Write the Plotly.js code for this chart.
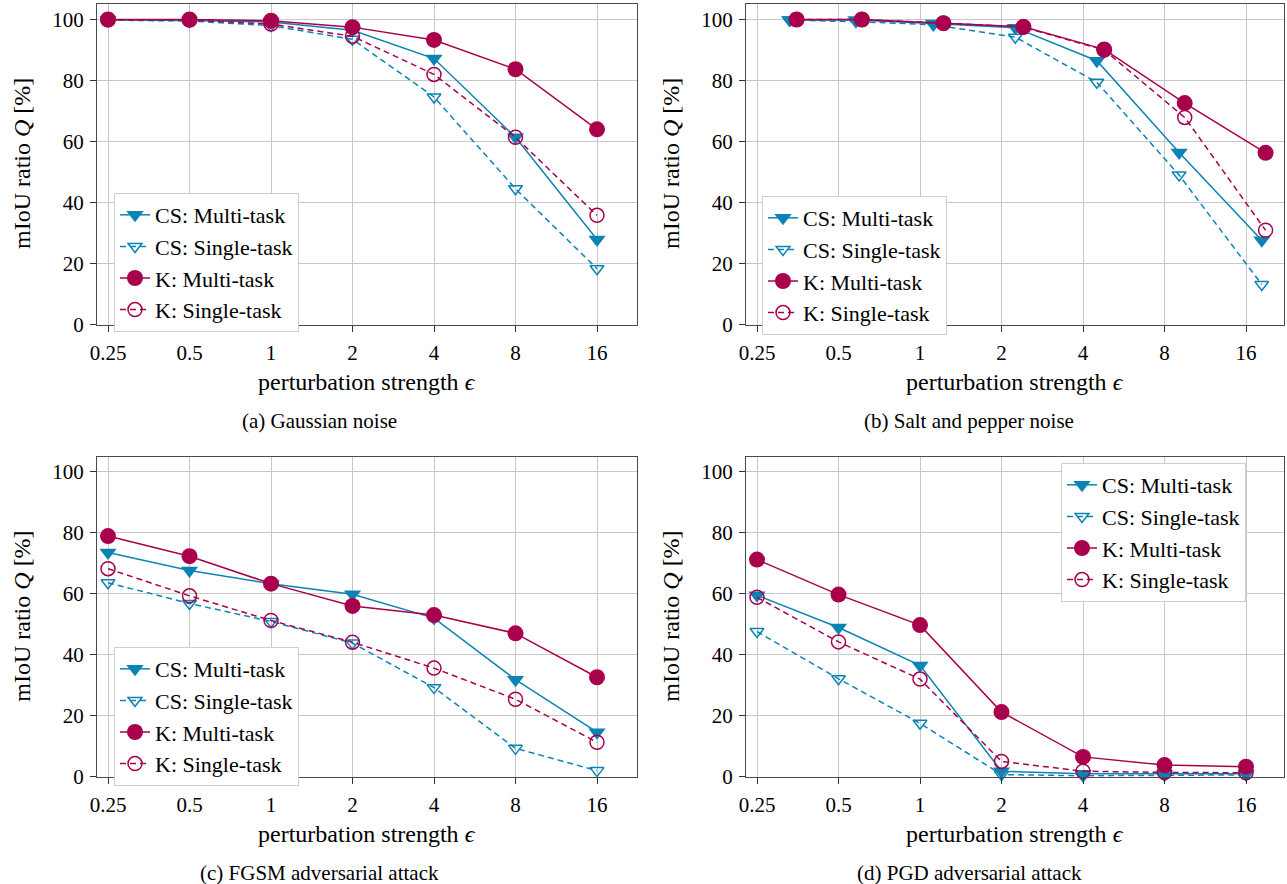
<!DOCTYPE html>
<html>
<head>
<meta charset="utf-8">
<script src="https://cdn.plot.ly/plotly-3.0.1.min.js"></script>
<style>
html,body{margin:0;padding:0;background:#fff;}
#chart{width:1287px;height:884px;}
</style>
</head>
<body>
<div id="chart"></div>
<script>
// ---------- data ----------
const epsTicks = [0.25, 0.5, 1, 2, 4, 8, 16];
const tickLabels = ['0.25', '0.5', '1', '2', '4', '8', '16'];
const yTicks = [0, 20, 40, 60, 80, 100];
const seriesNames = ['CS: Multi-task', 'CS: Single-task', 'K: Multi-task', 'K: Single-task'];
const panelCaptions = ['(a) Gaussian noise', '(b) Salt and pepper noise', '(c) FGSM adversarial attack', '(d) PGD adversarial attack'];

// (a) Gaussian noise
const gaussX = [0.25, 0.5, 1, 2, 4, 8, 16];
const gaussCsMulti  = [99.8, 99.7, 99.2, 96.5, 87.2, 61.4, 27.9];
const gaussCsSingle = [99.8, 99.5, 98.0, 93.5, 74.6, 44.5, 18.3];
const gaussKMulti   = [100, 100, 99.6, 97.5, 93.3, 83.7, 64.0];
const gaussKSingle  = [99.9, 99.8, 98.5, 94.5, 82.0, 61.4, 35.8];

// (b) Salt and pepper noise (measured strengths differ slightly per dataset)
const spXcs = [0.33, 0.58, 1.12, 2.25, 4.5, 9.06, 18.3];
const spXk  = [0.35, 0.61, 1.22, 2.41, 4.79, 9.5, 18.9];
const spCsMulti  = [99.8, 99.8, 98.7, 97.3, 86.5, 56.4, 27.6];
const spCsSingle = [99.8, 99.3, 98.3, 94.2, 79.4, 49.0, 13.1];
const spKMulti   = [100, 100, 98.8, 97.6, 90.2, 72.6, 56.3];
const spKSingle  = [100, 100, 98.8, 97.5, 90.0, 67.9, 30.9];

// (c) FGSM adversarial attack
const fgsmX = [0.25, 0.5, 1, 2, 4, 8, 16];
const fgsmCsMulti  = [73.5, 67.6, 63.3, 59.8, 52.0, 31.8, 14.6];
const fgsmCsSingle = [63.6, 56.8, 50.9, 43.8, 29.2, 9.3, 2.0];
const fgsmKMulti   = [78.9, 72.3, 63.3, 56.0, 53.0, 47.0, 32.6];
const fgsmKSingle  = [68.2, 59.3, 51.2, 44.1, 35.6, 25.4, 11.3];

// (d) PGD adversarial attack
const pgdX = [0.25, 0.5, 1, 2, 4, 8, 16];
const pgdCsMulti  = [59.5, 48.9, 36.5, 1.8, 1.0, 0.9, 1.0];
const pgdCsSingle = [47.6, 32.1, 17.5, 0.7, 0.3, 0.5, 0.6];
const pgdKMulti   = [71.2, 59.7, 49.7, 21.2, 6.5, 3.8, 3.3];
const pgdKSingle  = [58.8, 44.2, 32.0, 5.0, 1.8, 1.4, 1.3];

// ---------- styling ----------
const W = 1287, H = 884;
const BLUE = '#0b84b5';
const RED = '#a8004c';
const FONT = "'Liberation Serif', serif";
const px = v => v / W;
const py = v => 1 - v / H;

const panels = [
  {xs: [gaussX, gaussX, gaussX, gaussX], ys: [gaussCsMulti, gaussCsSingle, gaussKMulti, gaussKSingle],
   box: [97, 637, 3.5, 324.5], legend: [114, 193]},
  {xs: [spXcs, spXcs, spXk, spXk], ys: [spCsMulti, spCsSingle, spKMulti, spKSingle],
   box: [746, 1284, 3.5, 324.5], legend: [762, 196]},
  {xs: [fgsmX, fgsmX, fgsmX, fgsmX], ys: [fgsmCsMulti, fgsmCsSingle, fgsmKMulti, fgsmKSingle],
   box: [97, 637, 456.7, 776.7], legend: [114, 647]},
  {xs: [pgdX, pgdX, pgdX, pgdX], ys: [pgdCsMulti, pgdCsSingle, pgdKMulti, pgdKSingle],
   box: [746, 1284, 456.7, 776.7], legend: [1061, 463]}
];

const styles = [
  {color: BLUE, dash: 'solid', symbol: 'triangle-down', size: 15},
  {color: BLUE, dash: '6px,4px', symbol: 'triangle-down-open', size: 12},
  {color: RED, dash: 'solid', symbol: 'circle', size: 16},
  {color: RED, dash: '6px,4px', symbol: 'circle-open', size: 14}
];

const traces = [];
const layout = {
  width: W, height: H,
  margin: {l: 0, r: 0, t: 0, b: 0},
  paper_bgcolor: '#fff', plot_bgcolor: '#fff',
  font: {family: FONT, size: 21, color: '#000'},
  annotations: [],
  showlegend: true
};

const legendKeys = ['legend', 'legend2', 'legend3', 'legend4'];

panels.forEach((p, i) => {
  const n = i + 1;
  const xa = n === 1 ? 'x' : 'x' + n;
  const ya = n === 1 ? 'y' : 'y' + n;
  const [l, r, t, b] = p.box;
  const pxPerOct = 81.5;
  const lo = Math.log2(epsTicks[0]) - (11 / pxPerOct);
  const hi = lo + (r - l) / pxPerOct;
  const yTop = (b - t) / 3.05;

  layout['xaxis' + (n === 1 ? '' : n)] = {
    domain: [px(l), px(r)], anchor: ya,
    type: 'log',
    range: [lo * Math.LOG10E * Math.LN2, hi * Math.LOG10E * Math.LN2],
    tickmode: 'array', tickvals: epsTicks, ticktext: tickLabels,
    ticks: 'outside', ticklen: 6, tickwidth: 1, tickcolor: '#333',
    ticklabelstandoff: 3,
    showline: true, linecolor: '#4a4a4a', linewidth: 1, mirror: true,
    showgrid: true, gridcolor: '#c8c8c8', gridwidth: 1,
    zeroline: false,
    tickfont: {family: FONT, size: 21, color: '#000'},
    fixedrange: true
  };
  layout['yaxis' + (n === 1 ? '' : n)] = {
    domain: [py(b), py(t)], anchor: xa,
    range: [0, yTop],
    tickmode: 'array', tickvals: yTicks,
    ticks: 'outside', ticklen: 6, tickwidth: 1, tickcolor: '#333',
    ticklabelstandoff: 2,
    showline: true, linecolor: '#4a4a4a', linewidth: 1, mirror: true,
    showgrid: true, gridcolor: '#c8c8c8', gridwidth: 1,
    zeroline: false,
    tickfont: {family: FONT, size: 21, color: '#000'},
    fixedrange: true
  };

  layout[legendKeys[i]] = {
    x: px(p.legend[0]), y: py(p.legend[1]),
    xanchor: 'left', yanchor: 'top',
    xref: 'paper', yref: 'paper',
    bgcolor: '#ffffff', bordercolor: '#cfcfcf', borderwidth: 1,
    font: {family: FONT, size: 22, color: '#000'},
    tracegroupgap: 0, itemwidth: 30,
    traceorder: 'normal'
  };

  styles.forEach((s, k) => {
    traces.push({
      type: 'scatter', mode: 'lines+markers',
      x: p.xs[k], y: p.ys[k],
      xaxis: xa, yaxis: ya,
      name: seriesNames[k],
      legend: legendKeys[i],
      line: {color: s.color, width: 1.5, dash: s.dash},
      marker: {symbol: s.symbol, size: s.size, color: s.color,
               line: {color: s.color, width: s.symbol.indexOf('open') >= 0 ? 1.5 : 0}},
      cliponaxis: false,
      hoverinfo: 'x+y+name'
    });
  });

  const cx = (l + r) / 2;
  layout.annotations.push({
    text: 'perturbation strength <i>ϵ</i>', xref: 'paper', yref: 'paper',
    x: px(cx), y: py(b + 57), xanchor: 'center', yanchor: 'middle',
    showarrow: false, font: {family: FONT, size: 24, color: '#000'}
  });
  layout.annotations.push({
    text: 'mIoU ratio <i>Q</i> [%]', xref: 'paper', yref: 'paper',
    x: px(l - 75), y: py((t + b) / 2), xanchor: 'center', yanchor: 'middle',
    textangle: -90,
    showarrow: false, font: {family: FONT, size: 24, color: '#000'}
  });
  layout.annotations.push({
    text: panelCaptions[i], xref: 'paper', yref: 'paper',
    x: px(i % 2 === 0 ? 319 : 969), y: py(b + 96.5), xanchor: 'center', yanchor: 'middle',
    showarrow: false, font: {family: FONT, size: 21, color: '#000'}
  });
});

Plotly.newPlot('chart', traces, layout, {displayModeBar: false, staticPlot: true});
</script>
</body>
</html>
